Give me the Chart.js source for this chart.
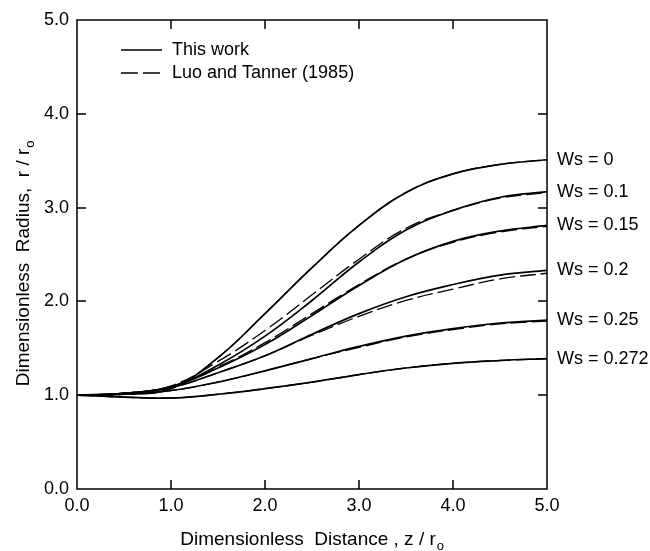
<!DOCTYPE html>
<html>
<head>
<meta charset="utf-8">
<script src="https://cdn.jsdelivr.net/npm/chart.js@4.4.1/dist/chart.umd.min.js"></script>
<style>
  body { margin: 0; background: #fff; }
</style>
</head>
<body>
<canvas id="chart" width="650" height="551"></canvas>
<script>
const FONT = '"Liberation Sans", Arial, sans-serif';

// z / r0 sample points
const xValues = [0, 0.5, 1.0, 1.5, 2.0, 2.5, 3.0, 3.5, 4.0, 4.5, 5.0];

// This work (solid)
const ws0   = [1.00, 1.01, 1.07, 1.40, 1.87, 2.36, 2.81, 3.16, 3.36, 3.46, 3.51];
const ws010 = [1.00, 1.02, 1.09, 1.32, 1.63, 2.01, 2.42, 2.76, 2.97, 3.11, 3.17];
const ws015 = [1.00, 1.02, 1.09, 1.29, 1.54, 1.85, 2.17, 2.45, 2.64, 2.75, 2.81];
const ws020 = [1.00, 1.02, 1.08, 1.24, 1.42, 1.65, 1.87, 2.05, 2.18, 2.28, 2.33];
const ws025 = [1.00, 1.01, 1.05, 1.14, 1.26, 1.39, 1.52, 1.63, 1.71, 1.77, 1.80];
const ws0272 = [1.00, 0.98, 0.97, 1.01, 1.07, 1.14, 1.22, 1.29, 1.34, 1.37, 1.39];

// Luo and Tanner (1985) (dashed)
const luo0   = [1.00, 1.01, 1.07, 1.40, 1.87, 2.36, 2.81, 3.16, 3.36, 3.46, 3.51];
const luo010 = [1.00, 1.02, 1.10, 1.36, 1.69, 2.07, 2.45, 2.78, 2.97, 3.10, 3.16];
const luo015 = [1.00, 1.02, 1.09, 1.30, 1.56, 1.87, 2.18, 2.45, 2.63, 2.74, 2.80];
const luo020 = [1.00, 1.02, 1.08, 1.24, 1.42, 1.64, 1.84, 2.01, 2.13, 2.24, 2.30];
const luo025 = [1.00, 1.01, 1.05, 1.14, 1.26, 1.39, 1.51, 1.62, 1.70, 1.76, 1.79];
const luo0272 = [1.00, 0.98, 0.97, 1.01, 1.07, 1.14, 1.22, 1.29, 1.34, 1.37, 1.39];

const wsLabels = ['Ws = 0', 'Ws = 0.1', 'Ws = 0.15', 'Ws = 0.2', 'Ws = 0.25', 'Ws = 0.272'];
const solidSeries = [ws0, ws010, ws015, ws020, ws025, ws0272];
const dashedSeries = [luo0, luo010, luo015, luo020, luo025, luo0272];
const legendLabels = ['This work', 'Luo and Tanner (1985)'];

function toPoints(ys) {
  return xValues.map((x, i) => ({ x: x, y: ys[i] }));
}

const datasets = [];
solidSeries.forEach((s, i) => {
  datasets.push({ label: wsLabels[i], data: toPoints(s), borderColor: '#000', borderWidth: 1.7 });
});
dashedSeries.forEach((s, i) => {
  datasets.push({ label: wsLabels[i] + ' (Luo)', data: toPoints(s), borderColor: '#000', borderWidth: 1.3, borderDash: [16, 5] });
});

// draws text followed by a small subscript
function textWithSub(ctx, main, sub, x, y) {
  const w = ctx.measureText(main).width;
  ctx.fillText(main, x, y);
  ctx.save();
  ctx.font = '13px ' + FONT;
  ctx.fillText(sub, x + w + 1, y + 5);
  ctx.restore();
  return w;
}

const decorations = {
  id: 'decorations',
  afterDraw(chart) {
    const { ctx, chartArea: a, scales: { x, y } } = chart;
    ctx.save();
    ctx.strokeStyle = '#000';
    ctx.fillStyle = '#000';
    ctx.lineWidth = 1.5;
    ctx.strokeRect(a.left, a.top, a.right - a.left, a.bottom - a.top);

    // inward ticks on all four sides
    const len = 9;
    ctx.beginPath();
    x.ticks.forEach(t => {
      if (t.value <= 0 || t.value >= 5) return;
      const px = Math.round(x.getPixelForValue(t.value));
      ctx.moveTo(px, a.bottom); ctx.lineTo(px, a.bottom - len);
      ctx.moveTo(px, a.top); ctx.lineTo(px, a.top + len);
    });
    y.ticks.forEach(t => {
      if (t.value <= 0 || t.value >= 5) return;
      const py = Math.round(y.getPixelForValue(t.value));
      ctx.moveTo(a.left, py); ctx.lineTo(a.left + len, py);
      ctx.moveTo(a.right, py); ctx.lineTo(a.right - len, py);
    });
    ctx.stroke();

    // curve labels at the right
    ctx.font = '18px ' + FONT;
    ctx.textBaseline = 'middle';
    ctx.textAlign = 'left';
    solidSeries.forEach((s, i) => {
      ctx.fillText(wsLabels[i], a.right + 10, y.getPixelForValue(s[s.length - 1]));
    });

    // legend
    ctx.lineWidth = 1.5;
    ctx.beginPath();
    ctx.moveTo(121, 50); ctx.lineTo(162, 50);
    ctx.stroke();
    ctx.setLineDash([17, 5]);
    ctx.beginPath();
    ctx.moveTo(121, 73); ctx.lineTo(163, 73);
    ctx.stroke();
    ctx.setLineDash([]);
    ctx.fillText(legendLabels[0], 172, 50);
    ctx.fillText(legendLabels[1], 172, 73);

    // axis titles
    ctx.font = '19px ' + FONT;
    ctx.textBaseline = 'alphabetic';
    const xt = 'Dimensionless  Distance , z / r';
    const xw = ctx.measureText(xt).width + 8;
    textWithSub(ctx, xt, 'o', (a.left + a.right) / 2 - xw / 2, 545);

    ctx.translate(29, (a.top + a.bottom) / 2 + 9);
    ctx.rotate(-Math.PI / 2);
    const yt = 'Dimensionless  Radius,  r / r';
    const yw = ctx.measureText(yt).width + 8;
    textWithSub(ctx, yt, 'o', -yw / 2, 0);
    ctx.restore();
  }
};

new Chart(document.getElementById('chart'), {
  type: 'line',
  data: { datasets: datasets },
  plugins: [decorations],
  options: {
    responsive: false,
    animation: false,
    devicePixelRatio: 1,
    layout: { padding: { left: 0, right: 103, top: 20, bottom: 0 } },
    elements: {
      point: { radius: 0 },
      line: { tension: 0.4, fill: false }
    },
    plugins: { legend: { display: false }, tooltip: { enabled: false } },
    scales: {
      x: {
        type: 'linear',
        min: 0, max: 5,
        grid: { display: false, drawTicks: false },
        border: { display: false },
        ticks: {
          stepSize: 1, padding: 6, color: '#000',
          font: { family: FONT, size: 18 },
          callback: v => v.toFixed(1)
        },
        afterFit: s => { s.height = 62; }
      },
      y: {
        type: 'linear',
        min: 0, max: 5,
        grid: { display: false, drawTicks: false },
        border: { display: false },
        ticks: {
          stepSize: 1, padding: 8, color: '#000',
          font: { family: FONT, size: 18 },
          callback: v => v.toFixed(1)
        },
        afterFit: s => { s.width = 77; }
      }
    }
  }
});
</script>
</body>
</html>
